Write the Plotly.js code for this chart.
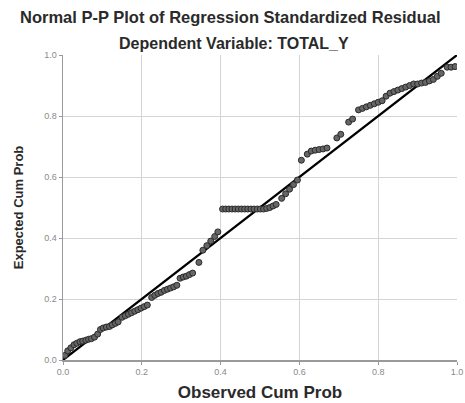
<!DOCTYPE html>
<html>
<head>
<meta charset="utf-8">
<script src="https://cdn.plot.ly/plotly-3.0.1.min.js"></script>
<style>html,body{margin:0;padding:0;background:#fff;}#chart{width:465px;height:403px;}</style>
</head>
<body>
<div id="chart"></div>
<script>
// Observed cumulative probability (x) and expected cumulative probability (y)
const observedCumProb = [
  0.005,0.012,0.020,0.028,0.035,0.043,0.050,0.058,0.065,0.072,0.080,0.088,
  0.095,0.102,0.110,0.118,0.125,0.133,0.140,
  0.150,0.158,0.166,0.174,0.182,0.190,0.198,0.206,0.214,
  0.225,0.233,0.241,0.249,0.257,0.265,0.273,0.281,0.289,
  0.297,0.305,0.313,0.321,0.329,
  0.345,0.355,0.365,0.375,0.385,0.393,
  0.405,0.413,0.421,0.429,0.437,0.445,0.453,0.461,0.469,0.477,0.485,0.493,0.501,0.509,0.517,0.525,0.533,0.541,
  0.555,0.565,0.575,0.585,0.595,
  0.605,0.620,0.630,0.640,0.650,0.660,0.670,
  0.695,0.705,0.725,0.735,
  0.750,0.760,0.770,0.780,0.790,0.800,0.810,
  0.820,0.830,0.840,0.850,0.860,0.870,0.880,0.890,
  0.900,0.910,0.920,0.930,0.940,0.950,0.960,
  0.975,0.985,0.995
];
const expectedCumProb = [
  0.015,0.030,0.040,0.050,0.055,0.060,0.062,0.065,0.068,0.070,0.075,0.085,
  0.100,0.105,0.108,0.110,0.115,0.120,0.125,
  0.140,0.145,0.150,0.155,0.160,0.165,0.170,0.175,0.180,
  0.205,0.212,0.218,0.222,0.228,0.232,0.236,0.240,0.245,
  0.268,0.272,0.275,0.280,0.285,
  0.320,0.360,0.375,0.390,0.405,0.420,
  0.495,0.495,0.495,0.495,0.495,0.495,0.495,0.495,0.495,0.495,0.495,0.495,0.495,0.495,0.497,0.500,0.505,0.510,
  0.530,0.545,0.560,0.575,0.590,
  0.655,0.675,0.685,0.688,0.690,0.692,0.695,
  0.728,0.740,0.780,0.790,
  0.820,0.825,0.830,0.835,0.840,0.845,0.850,
  0.865,0.875,0.880,0.885,0.890,0.895,0.900,0.905,
  0.905,0.908,0.910,0.915,0.920,0.930,0.940,
  0.960,0.960,0.962
];
const refLineX = [0, 1];
const refLineY = [0, 1];
const tickVals = [0, 0.2, 0.4, 0.6, 0.8, 1.0];
const tickText = ['0.0', '0.2', '0.4', '0.6', '0.8', '1.0'];

const FONT = 'Liberation Sans, Arial, sans-serif';

const pts = {
  x: observedCumProb, y: expectedCumProb,
  type: 'scatter', mode: 'markers',
  marker: {symbol: 'circle', size: 6, color: '#666666', line: {color: '#2a2a2a', width: 1}},
  hoverinfo: 'x+y', showlegend: false
};
const line = {
  x: refLineX, y: refLineY, type: 'scatter', mode: 'lines',
  line: {color: '#000', width: 2.2}, hoverinfo: 'skip', showlegend: false
};

const axisCommon = {
  range: [0, 1], tickvals: tickVals, ticktext: tickText,
  showgrid: true, gridcolor: '#d4d4d4', gridwidth: 1,
  zeroline: false, showline: true, linecolor: '#9a9a9a', linewidth: 1.5,
  ticks: 'outside', ticklen: 3, tickcolor: '#9a9a9a',
  tickfont: {family: FONT, size: 9, color: '#8a8a8a'},
  fixedrange: true
};

const layout = {
  width: 465, height: 403,
  margin: {l: 63, r: 8, t: 55, b: 43},
  paper_bgcolor: '#fff', plot_bgcolor: '#fff',
  xaxis: Object.assign({}, axisCommon, {
    title: {text: 'Observed Cum Prob', standoff: 10,
      font: {family: FONT, size: 17, color: '#2a2a2a', weight: 'bold'}}
  }),
  yaxis: Object.assign({}, axisCommon, {
    title: {text: 'Expected Cum Prob', standoff: 17,
      font: {family: FONT, size: 13, color: '#2a2a2a', weight: 'bold'}}
  }),
  annotations: [
    {text: '<b>Normal P-P Plot of Regression Standardized Residual</b>', xref: 'paper', yref: 'paper',
     x: 0.424, y: 1.124, xanchor: 'center', yanchor: 'middle', showarrow: false,
     font: {family: FONT, size: 16.5, color: '#2a2a2a'}},
    {text: '<b>Dependent Variable: TOTAL_Y</b>', xref: 'paper', yref: 'paper',
     x: 0.433, y: 1.039, xanchor: 'center', yanchor: 'middle', showarrow: false,
     font: {family: FONT, size: 16, color: '#2a2a2a'}}
  ]
};

Plotly.newPlot('chart', [line, pts], layout, {displayModeBar: false, staticPlot: true});
</script>
</body>
</html>
